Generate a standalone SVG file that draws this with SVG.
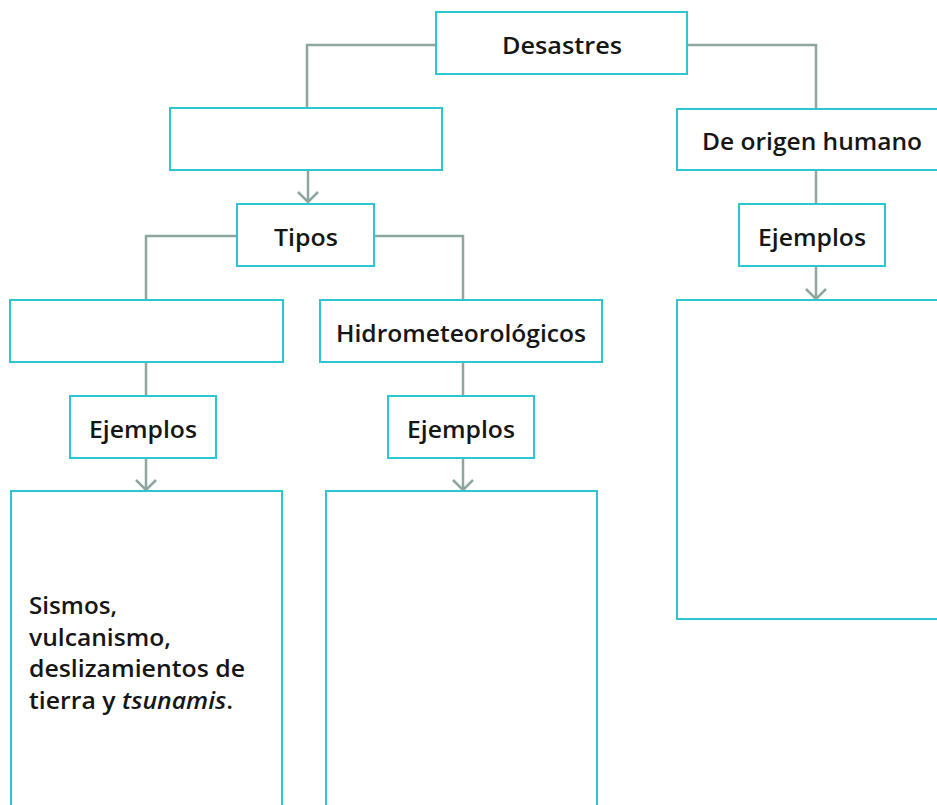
<svg xmlns="http://www.w3.org/2000/svg" width="937" height="805" viewBox="0 0 937 805">
<style>
.box{fill:#fff;stroke:#2cc5d3;stroke-width:2}
.con{fill:none;stroke:#8da69f;stroke-width:2.5}
.lbl{font-family:"Open Sans",Lato,sans-serif;font-weight:600;font-size:23px;fill:#161616;text-anchor:middle}
.body{font-family:"Open Sans",Lato,sans-serif;font-weight:600;font-size:22.5px;fill:#161616}
</style>
<rect width="937" height="805" fill="#fff"/>
<g id="connectors">
<path class="con" d="M436 45 H307 V108"/>
<path class="con" d="M688 45 H816 V109"/>
<path class="con" d="M308 170 V203 M298 192 L308 202 L318 192"/>
<path class="con" d="M237 236 H146 V300"/>
<path class="con" d="M374 236 H463 V300"/>
<path class="con" d="M146 362 V396"/>
<path class="con" d="M146 458 V490 M136 480 L146 490 L156 480"/>
<path class="con" d="M463 362 V396"/>
<path class="con" d="M463 458 V490 M453 480 L463 490 L473 480"/>
<path class="con" d="M816 170 V204"/>
<path class="con" d="M816 266 V299 M806 289 L816 299 L826 289"/>
</g>
<g id="desastres"><rect class="box" x="436" y="12" width="251" height="62"/><text class="lbl" x="562" y="54" textLength="120" lengthAdjust="spacingAndGlyphs">Desastres</text></g>
<g id="natural"><rect class="box" x="170" y="108" width="272" height="62"/></g>
<g id="tipos"><rect class="box" x="237" y="204" width="137" height="62"/><text class="lbl" x="306" y="246" textLength="64" lengthAdjust="spacingAndGlyphs">Tipos</text></g>
<g id="geologicos"><rect class="box" x="10" y="300" width="273" height="62"/></g>
<g id="hidro"><rect class="box" x="320" y="300" width="282" height="62"/><text class="lbl" x="461" y="342" textLength="250" lengthAdjust="spacingAndGlyphs">Hidrometeorológicos</text></g>
<g id="ejemplos1"><rect class="box" x="70" y="396" width="146" height="62"/><text class="lbl" x="143" y="438" textLength="108" lengthAdjust="spacingAndGlyphs">Ejemplos</text></g>
<g id="ejemplos2"><rect class="box" x="388" y="396" width="146" height="62"/><text class="lbl" x="461" y="438" textLength="108" lengthAdjust="spacingAndGlyphs">Ejemplos</text></g>
<g id="humano"><rect class="box" x="677" y="109" width="270" height="61"/><text class="lbl" x="812" y="150" textLength="220" lengthAdjust="spacingAndGlyphs">De origen humano</text></g>
<g id="ejemplos3"><rect class="box" x="739" y="204" width="146" height="62"/><text class="lbl" x="812" y="246" textLength="108" lengthAdjust="spacingAndGlyphs">Ejemplos</text></g>
<g id="ejemplos-geo"><rect class="box" x="11" y="491" width="271" height="330"/>
<text class="body" x="29" y="614" textLength="88" lengthAdjust="spacingAndGlyphs">Sismos,</text>
<text class="body" x="29" y="646" textLength="142" lengthAdjust="spacingAndGlyphs">vulcanismo,</text>
<text class="body" x="29" y="677" textLength="216" lengthAdjust="spacingAndGlyphs">deslizamientos de</text>
<text class="body" x="29" y="709" textLength="204" lengthAdjust="spacingAndGlyphs">tierra y <tspan font-style="italic">tsunamis</tspan>.</text></g>
<g id="ejemplos-hidro"><rect class="box" x="326" y="491" width="271" height="330"/></g>
<g id="ejemplos-humano"><rect class="box" x="677" y="300" width="270" height="319"/></g>
</svg>
